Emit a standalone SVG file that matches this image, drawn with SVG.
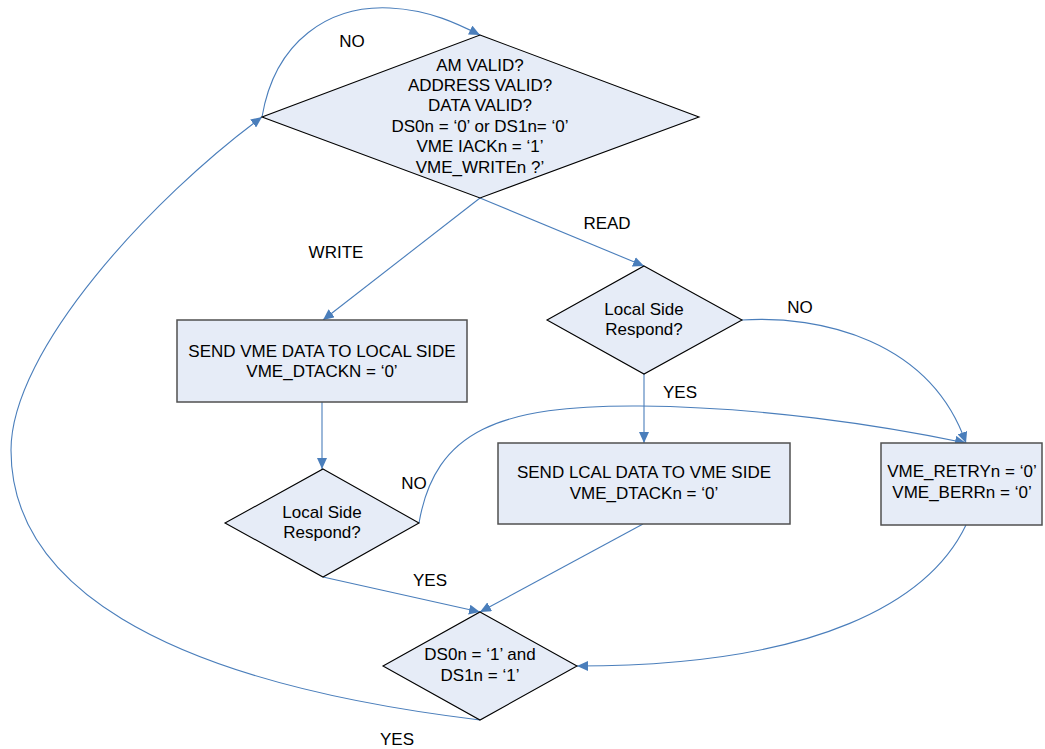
<svg xmlns="http://www.w3.org/2000/svg" width="1045" height="749" viewBox="0 0 1045 749">
  <style>
    .box { fill: #e6ecf7; stroke: #505050; stroke-width: 1.5; }
    .dia { fill: #e6ecf7; stroke: #000000; stroke-width: 1.1; }
    .txt { font-family: "Liberation Sans", Arial, sans-serif; font-size: 17px; fill: #000000; text-anchor: middle; }
    .lbl { font-family: "Liberation Sans", Arial, sans-serif; font-size: 17px; fill: #000000; text-anchor: middle; }
    .edge { fill: none; stroke: #4a7ebb; stroke-width: 1.1; marker-end: url(#arrow); }
  </style>
  <defs>
    <marker id="arrow" markerUnits="userSpaceOnUse" markerWidth="12" markerHeight="10" refX="11" refY="5" orient="auto">
      <path d="M0,0 L11,5 L0,10 z" fill="#4a7ebb"/>
    </marker>
  </defs>
  <rect width="1045" height="749" fill="#ffffff"/>

  <!-- connectors -->
  <g id="connectors">
    <!-- NO: loop back onto the top decision -->
    <path class="edge" d="M262,117 C275,40 330,5 390,8 C430,10 458,24 480,35"/>
    <!-- WRITE -->
    <path class="edge" d="M480,198 L323,320"/>
    <!-- READ -->
    <path class="edge" d="M480,198 L644,266"/>
    <!-- write path: box to decision -->
    <path class="edge" d="M322,402 L322,469"/>
    <!-- read decision YES -->
    <path class="edge" d="M644,374 L644,443"/>
    <!-- read decision NO -->
    <path class="edge" d="M742,320 C820,315 930,340 966,443"/>
    <!-- write decision NO -->
    <path class="edge" d="M419,523 C435,430 500,405 640,406 C760,407 880,425 966,443"/>
    <!-- write decision YES -->
    <path class="edge" d="M323,577 L480,612"/>
    <!-- local data sent -->
    <path class="edge" d="M643,524 L480,612"/>
    <!-- retry / bus error -->
    <path class="edge" d="M966,525 C930,600 820,666 577,666"/>
    <!-- YES: back to the start -->
    <path class="edge" d="M480,720 C150,680 11,580 11,450 C11,350 152,198 262,117"/>
  </g>

  <!-- edge labels -->
  <g id="labels">
    <text class="lbl" x="352" y="47">NO</text>
    <text class="lbl" x="336" y="258">WRITE</text>
    <text class="lbl" x="607" y="229">READ</text>
    <text class="lbl" x="800" y="313">NO</text>
    <text class="lbl" x="680" y="398">YES</text>
    <text class="lbl" x="414" y="489">NO</text>
    <text class="lbl" x="430" y="586">YES</text>
    <text class="lbl" x="397" y="745">YES</text>
  </g>

  <g id="check-cycle">
    <polygon class="dia" points="480,35 699,117 480,198 262,117"/>
    <text class="txt" x="480" y="71">AM VALID?</text>
    <text class="txt" x="480" y="91">ADDRESS VALID?</text>
    <text class="txt" x="480" y="111">DATA VALID?</text>
    <text class="txt" x="480" y="132">DS0n = ‘0’ or DS1n= ‘0’</text>
    <text class="txt" x="480" y="152">VME IACKn = ‘1’</text>
    <text class="txt" x="480" y="173">VME_WRITEn ?’</text>
  </g>

  <g id="send-vme-data">
    <rect class="box" x="177" y="320" width="290" height="82"/>
    <text class="txt" x="322" y="357">SEND VME DATA TO LOCAL SIDE</text>
    <text class="txt" x="322" y="377">VME_DTACKN = ‘0’</text>
  </g>

  <g id="read-respond">
    <polygon class="dia" points="644,266 742,320 644,374 547,320"/>
    <text class="txt" x="644" y="315">Local Side</text>
    <text class="txt" x="644" y="335">Respond?</text>
  </g>

  <g id="write-respond">
    <polygon class="dia" points="323,469 419,523 323,577 225,523"/>
    <text class="txt" x="322" y="518">Local Side</text>
    <text class="txt" x="322" y="538">Respond?</text>
  </g>

  <g id="send-local-data">
    <rect class="box" x="498" y="443" width="292" height="81"/>
    <text class="txt" x="644" y="478">SEND LCAL DATA TO VME SIDE</text>
    <text class="txt" x="644" y="499">VME_DTACKn = ‘0’</text>
  </g>

  <g id="retry-berr">
    <rect class="box" x="881" y="443" width="161" height="82"/>
    <text class="txt" x="962" y="477">VME_RETRYn = ‘0’</text>
    <text class="txt" x="962" y="498">VME_BERRn = ‘0’</text>
  </g>

  <g id="strobes-released">
    <polygon class="dia" points="480,612 577,666 480,720 383,666"/>
    <text class="txt" x="480" y="660">DS0n = ‘1’ and</text>
    <text class="txt" x="480" y="681">DS1n = ‘1’</text>
  </g>
</svg>
